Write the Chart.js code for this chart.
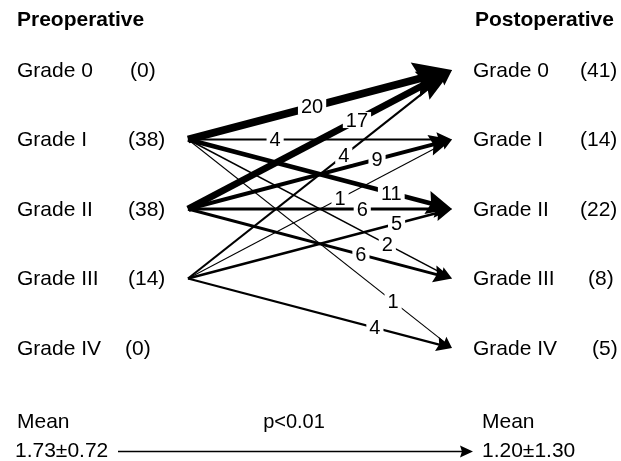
<!DOCTYPE html>
<html lang="en">
<head>
    <meta charset="UTF-8">
    <title>Preoperative / Postoperative grade</title>
    <script src="https://cdn.jsdelivr.net/npm/chart.js"></script>
    <style>
        html, body { margin: 0; padding: 0; background: #fff; }
        .chart-container { width: 621px; height: 461px; }
    </style>
</head>
<body>
    <div class="chart-container">
        <canvas id="gradeChart"></canvas>
    </div>

    <script>
        // data
        const grades = ['Grade 0', 'Grade I', 'Grade II', 'Grade III', 'Grade IV'];
        const preCounts = [0, 38, 38, 14, 0];
        const postCounts = [41, 14, 22, 8, 5];
        // one entry per arrow: from pre grade -> to post grade, number of patients
        const flowFrom = [1, 1, 1, 1, 1, 2, 2, 2, 2, 3, 3, 3, 3];
        const flowTo = [0, 1, 2, 3, 4, 0, 1, 2, 3, 0, 1, 2, 4];
        const flowCounts = [20, 4, 11, 2, 1, 17, 9, 6, 6, 4, 1, 5, 4];
        const preMean = '1.73±0.72';
        const postMean = '1.20±1.30';
        const pValue = 'p<0.01';

        // layout (x axis runs in page pixels, y axis in grade rows)
        const labelAt = [0.47, 0.33, 0.77, 0.755, 0.777, 0.64, 0.716, 0.66, 0.655, 0.59, 0.576, 0.79, 0.708];
        const srcX = 188, tipX = 452;
        const preCountX = [130, 128, 128, 128, 125];
        const postCountX = [580, 580, 580, 588, 592];
        const rowPx = 69.5, row0Px = 70;
        const FONT = '"Liberation Sans", Arial, Helvetica, sans-serif';

        function arrow(ctx, x0, y0, x1, y1, w, L, W) {
            const len = Math.hypot(x1 - x0, y1 - y0);
            const ux = (x1 - x0) / len, uy = (y1 - y0) / len;
            const nx = -uy, ny = ux;
            const bx = x1 - ux * L, by = y1 - uy * L;
            const notch = L * 0.15;
            const ix = bx + ux * notch, iy = by + uy * notch;
            ctx.lineWidth = w;
            ctx.lineCap = 'butt';
            ctx.beginPath();
            ctx.moveTo(x0, y0);
            ctx.lineTo(ix + ux * 1, iy + uy * 1);
            ctx.stroke();
            ctx.beginPath();
            ctx.moveTo(x1, y1);
            ctx.lineTo(bx + nx * W, by + ny * W);
            ctx.lineTo(ix, iy);
            ctx.lineTo(bx - nx * W, by - ny * W);
            ctx.closePath();
            ctx.fill();
        }

        const flowPlugin = {
            id: 'flows',
            afterDatasetsDraw(chart) {
                const { ctx, scales: { x, y } } = chart;
                ctx.save();
                ctx.fillStyle = '#000';
                ctx.strokeStyle = '#000';
                ctx.textBaseline = 'middle';

                // headers
                ctx.font = 'bold 21px ' + FONT;
                ctx.fillText('Preoperative', x.getPixelForValue(17), y.getPixelForValue(-0.72));
                ctx.fillText('Postoperative', x.getPixelForValue(475), y.getPixelForValue(-0.72));

                // grade rows
                ctx.font = '21px ' + FONT;
                grades.forEach((g, i) => {
                    const py = y.getPixelForValue(i) + 1;
                    ctx.fillText(g, x.getPixelForValue(17), py);
                    ctx.fillText('(' + preCounts[i] + ')', x.getPixelForValue(preCountX[i]), py);
                    ctx.fillText(g, x.getPixelForValue(473), py);
                    ctx.fillText('(' + postCounts[i] + ')', x.getPixelForValue(postCountX[i]), py);
                });

                // flow arrows
                const pts = flowCounts.map((c, i) => ({
                    x0: x.getPixelForValue(srcX), y0: y.getPixelForValue(flowFrom[i]),
                    x1: x.getPixelForValue(tipX), y1: y.getPixelForValue(flowTo[i]), c
                }));
                pts.forEach(p => {
                    const w = 0.7 + 0.36 * p.c;
                    const L = 10 + 1.4 * p.c;
                    arrow(ctx, p.x0, p.y0, p.x1, p.y1, w, L, L * 0.47);
                });

                // count labels on the arrows
                ctx.font = '20px ' + FONT;
                pts.forEach((p, i) => {
                    const t = labelAt[i];
                    const lx = p.x0 + (p.x1 - p.x0) * t;
                    const ly = p.y0 + (p.y1 - p.y0) * t;
                    const s = String(p.c);
                    const tw = ctx.measureText(s).width;
                    ctx.fillStyle = '#fff';
                    ctx.fillRect(lx - tw / 2 - 3, ly - 8, tw + 6, 16);
                    ctx.fillStyle = '#000';
                    ctx.textAlign = 'center';
                    ctx.fillText(s, lx, ly + 1);
                    ctx.textAlign = 'left';
                });

                // means
                ctx.font = '21px ' + FONT;
                const yMean = y.getPixelForValue(5.07);
                const yVal = y.getPixelForValue(5.49);
                ctx.fillText('Mean', x.getPixelForValue(17), yMean);
                ctx.fillText(preMean, x.getPixelForValue(15), yVal);
                ctx.fillText('Mean', x.getPixelForValue(482), yMean);
                ctx.fillText(postMean, x.getPixelForValue(482), yVal);
                ctx.textAlign = 'center';
                ctx.font = '20px ' + FONT;
                ctx.fillText(pValue, x.getPixelForValue(294), yMean);
                arrow(ctx, x.getPixelForValue(118), yVal, x.getPixelForValue(473), yVal, 1.5, 13, 6);
                ctx.restore();
            }
        };

        const ctx = document.getElementById('gradeChart').getContext('2d');
        new Chart(ctx, {
            type: 'scatter',
            data: {
                datasets: [{
                    label: 'Preoperative',
                    data: preCounts.map((c, i) => ({ x: srcX, y: i })),
                    pointRadius: 0
                }, {
                    label: 'Postoperative',
                    data: postCounts.map((c, i) => ({ x: tipX, y: i })),
                    pointRadius: 0
                }]
            },
            options: {
                responsive: true,
                maintainAspectRatio: false,
                animation: false,
                layout: { padding: 0 },
                plugins: { legend: { display: false }, tooltip: { enabled: false } },
                scales: {
                    x: { type: 'linear', min: 0, max: 621, display: false },
                    y: {
                        type: 'linear', reverse: true, display: false,
                        min: -row0Px / rowPx,
                        max: -row0Px / rowPx + 461 / rowPx
                    }
                }
            },
            plugins: [flowPlugin]
        });
    </script>
</body>
</html>
